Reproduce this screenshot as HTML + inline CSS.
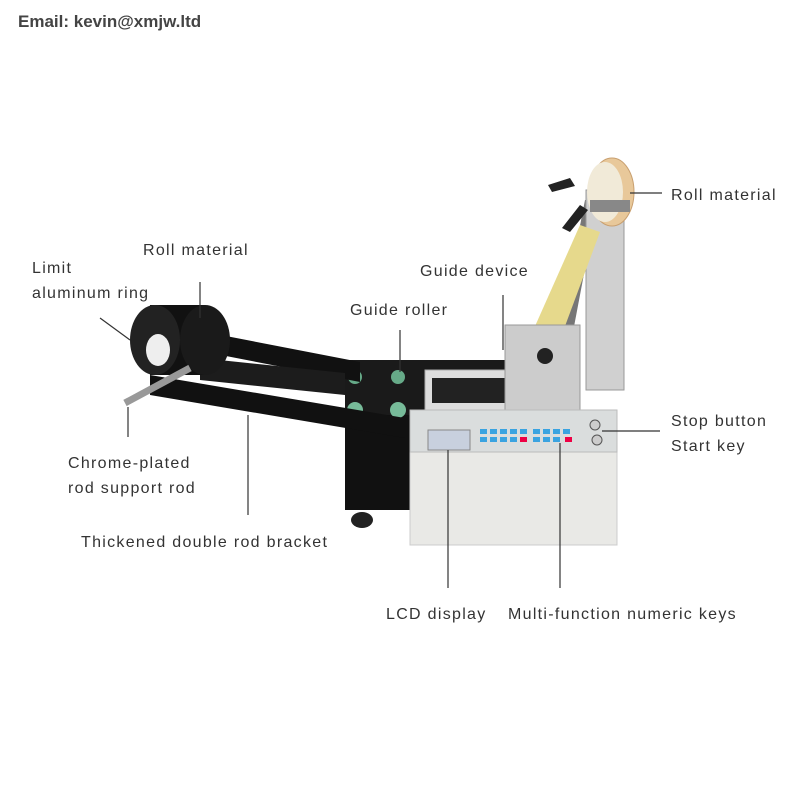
<!DOCTYPE html><html><head><style>body{margin:0;background:#fff}svg{display:block}text{font-family:"Liberation Sans",sans-serif;font-size:16px;fill:#333;letter-spacing:1.3px}</style></head><body>
<svg width="800" height="800" viewBox="0 0 800 800">
<text x="18" y="27" style="font-size:17px;font-weight:bold;fill:#444;letter-spacing:0">Email: kevin@xmjw.ltd</text>
<polygon points="548,390 585,200 598,200 562,390" fill="#777"/>
<rect x="586" y="190" width="38" height="200" fill="#d0d0d0" stroke="#999"/>
<polygon points="520,360 580,225 600,232 545,380" fill="#e6d98c"/>
<ellipse cx="612" cy="192" rx="22" ry="34" fill="#e8c89a" stroke="#c9a070"/>
<ellipse cx="605" cy="192" rx="18" ry="30" fill="#f1ead8"/>
<rect x="590" y="200" width="40" height="12" fill="#888"/>
<polygon points="548,185 570,178 575,186 552,192" fill="#222"/>
<polygon points="562,228 580,205 588,210 570,232" fill="#222"/>
<polygon points="345,360 520,360 520,415 345,415" fill="#1a1a1a"/>
<rect x="425" y="370" width="95" height="40" fill="#ddd" stroke="#aaa"/>
<rect x="432" y="378" width="80" height="25" fill="#222"/>
<rect x="505" y="325" width="75" height="85" fill="#ccc" stroke="#999"/>
<circle cx="545" cy="356" r="8" fill="#222"/>
<rect x="345" y="415" width="65" height="95" fill="#111"/>
<ellipse cx="362" cy="520" rx="11" ry="8" fill="#222"/>
<circle cx="355" cy="377" r="7" fill="#6a8"/><circle cx="398" cy="377" r="7" fill="#6a8"/>
<circle cx="355" cy="410" r="8" fill="#7b9"/><circle cx="398" cy="410" r="8" fill="#7b9"/>
<polygon points="195,330 360,362 360,382 195,350" fill="#111"/>
<polygon points="150,375 405,418 405,438 150,395" fill="#111"/>
<polygon points="200,358 345,373 345,395 200,380" fill="#1c1c1c"/>
<rect x="150" y="305" width="55" height="70" fill="#111"/>
<ellipse cx="205" cy="340" rx="25" ry="35" fill="#1a1a1a"/>
<ellipse cx="155" cy="340" rx="25" ry="35" fill="#222"/>
<ellipse cx="158" cy="350" rx="12" ry="16" fill="#eee"/>
<line x1="125" y1="403" x2="190" y2="368" stroke="#999" stroke-width="7"/>
<rect x="410" y="410" width="207" height="135" fill="#e9e9e6" stroke="#ccc"/>
<rect x="410" y="410" width="207" height="42" fill="#dadddd" stroke="#bbb"/>
<rect x="428" y="430" width="42" height="20" fill="#c8d0de" stroke="#888"/>
<g fill="#3aa3e0">
<rect x="480" y="429" width="7" height="5"/><rect x="490" y="429" width="7" height="5"/><rect x="500" y="429" width="7" height="5"/><rect x="510" y="429" width="7" height="5"/><rect x="520" y="429" width="7" height="5"/>
<rect x="480" y="437" width="7" height="5"/><rect x="490" y="437" width="7" height="5"/><rect x="500" y="437" width="7" height="5"/><rect x="510" y="437" width="7" height="5"/>
<rect x="533" y="429" width="7" height="5"/><rect x="543" y="429" width="7" height="5"/><rect x="553" y="429" width="7" height="5"/><rect x="563" y="429" width="7" height="5"/>
<rect x="533" y="437" width="7" height="5"/><rect x="543" y="437" width="7" height="5"/><rect x="553" y="437" width="7" height="5"/></g>
<rect x="520" y="437" width="7" height="5" fill="#e04"/><rect x="565" y="437" width="7" height="5" fill="#e04"/>
<circle cx="595" cy="425" r="5" fill="#ccc" stroke="#555"/><circle cx="597" cy="440" r="5" fill="#ccc" stroke="#555"/>
<g stroke="#333" stroke-width="1.2">
<line x1="630" y1="193" x2="662" y2="193"/>
<line x1="200" y1="282" x2="200" y2="318"/>
<line x1="100" y1="318" x2="130" y2="340"/>
<line x1="503" y1="295" x2="503" y2="350"/>
<line x1="400" y1="330" x2="400" y2="372"/>
<line x1="602" y1="431" x2="660" y2="431"/>
<line x1="128" y1="407" x2="128" y2="437"/>
<line x1="248" y1="415" x2="248" y2="515"/>
<line x1="448" y1="450" x2="448" y2="588"/>
<line x1="560" y1="443" x2="560" y2="588"/>
</g>
<text x="671" y="200">Roll material</text>
<text x="143" y="255">Roll material</text>
<text x="32" y="273">Limit</text>
<text x="32" y="298">aluminum ring</text>
<text x="420" y="276">Guide device</text>
<text x="350" y="315">Guide roller</text>
<text x="671" y="426">Stop button</text>
<text x="671" y="451">Start key</text>
<text x="68" y="468">Chrome-plated</text>
<text x="68" y="493">rod support rod</text>
<text x="81" y="547">Thickened double rod bracket</text>
<text x="386" y="619">LCD display</text>
<text x="508" y="619">Multi-function numeric keys</text>
</svg></body></html>
